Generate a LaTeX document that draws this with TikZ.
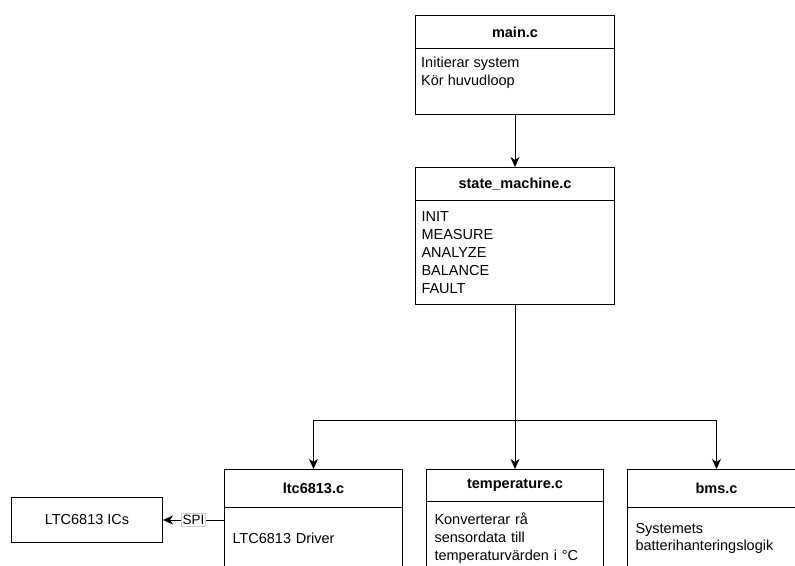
\documentclass[tikz,border=0pt]{standalone}
\usepackage{fontspec}
\setmainfont{Liberation Sans}
\usetikzlibrary{arrows.meta}
\begin{document}
\begin{tikzpicture}[x=1pt,y=-1pt,
  hdr/.style={draw=black, line width=1pt, rectangle, inner sep=0pt, anchor=north west,
    font=\fontsize{14.5}{17.5}\selectfont\bfseries, align=center},
  bodybox/.style={draw=black, line width=1pt, rectangle, inner xsep=8pt, inner ysep=0pt,
    anchor=north west, font=\fontsize{14.5}{17.8}\selectfont, align=left},
  plain/.style={inner sep=0pt, font=\fontsize{14.5}{17.8}\selectfont, align=left},
  conn/.style={line width=1pt, draw=black},
  arr/.style={conn, -{Stealth[length=10pt,width=9pt,inset=3pt]}},
  spilab/.style={draw=black!20, fill=white, line width=0.6pt, inner xsep=1pt, inner ysep=1.5pt,
    font=\fontsize{13.5}{15}\selectfont}
]
\path[use as bounding box] (0,0) rectangle (795,565);
\clip (0,0) rectangle (795,565);
\fill[white] (0,0) rectangle (795,565);

% main.c
\node[hdr, minimum width=199pt, minimum height=33pt] (mainh) at (415,15) {main.c};
\node[bodybox, minimum width=199pt, minimum height=66pt, text width=183pt] (mainb) at (415,48) {};
\node[plain, anchor=north west] (maint) at (421,57) {Initierar system\\Kör huvudloop};

% state_machine.c
\node[hdr, minimum width=199pt, minimum height=33pt] (smh) at (415,167) {state\_machine.c};
\node[bodybox, minimum width=199pt, minimum height=104pt, text width=183pt, inner xsep=8pt] (smb) at (415,200)
  {\hspace*{-2pt}INIT\\\hspace*{-2pt}MEASURE\\\hspace*{-2pt}ANALYZE\\\hspace*{-2pt}BALANCE\\\hspace*{-2pt}FAULT};

% ltc6813.c
\node[hdr, minimum width=178pt, minimum height=38pt] (ltch) at (224,469) {ltc6813.c};
\node[bodybox, minimum width=178pt, minimum height=62pt, text width=162pt] (ltcb) at (224,507) {LTC6813 Driver};

% temperature.c
\node[hdr, minimum width=177pt, minimum height=32pt] (temph) at (426,469) {temperature.c};
\node[bodybox, minimum width=177pt, minimum height=73pt, text width=161pt] (tempb) at (426,501)
  {Konverterar rå\\sensordata till\\temperaturvärden i °C};

% bms.c
\node[hdr, minimum width=178pt, minimum height=38pt] (bmsh) at (627,469) {bms.c};
\node[bodybox, minimum width=178pt, minimum height=62pt, text width=162pt] (bmsb) at (627,507)
  {Systemets\\batterihanteringslogik};

% LTC6813 ICs
\node[draw=black, line width=1pt, rectangle, anchor=north west, minimum width=151pt, minimum height=45pt,
  inner sep=0pt, font=\fontsize{14.5}{17.5}\selectfont] (ics) at (11,497) {LTC6813 ICs};

% connectors
\path (smb.south) ++(0,115) coordinate (split);
\coordinate (spiend) at (ltcb.west |- ics.east);
\draw[arr] (mainb.south) -- (smh.north);
\draw[conn] (smb.south) -- (split);
\draw[arr] (split) -| (ltch.north);
\draw[arr] (split) -- (temph.north);
\draw[arr] (split) -| (bmsh.north);
\draw[arr] (spiend) -- node[spilab] (spi) {SPI} (ics.east);
\end{tikzpicture}
\end{document}
